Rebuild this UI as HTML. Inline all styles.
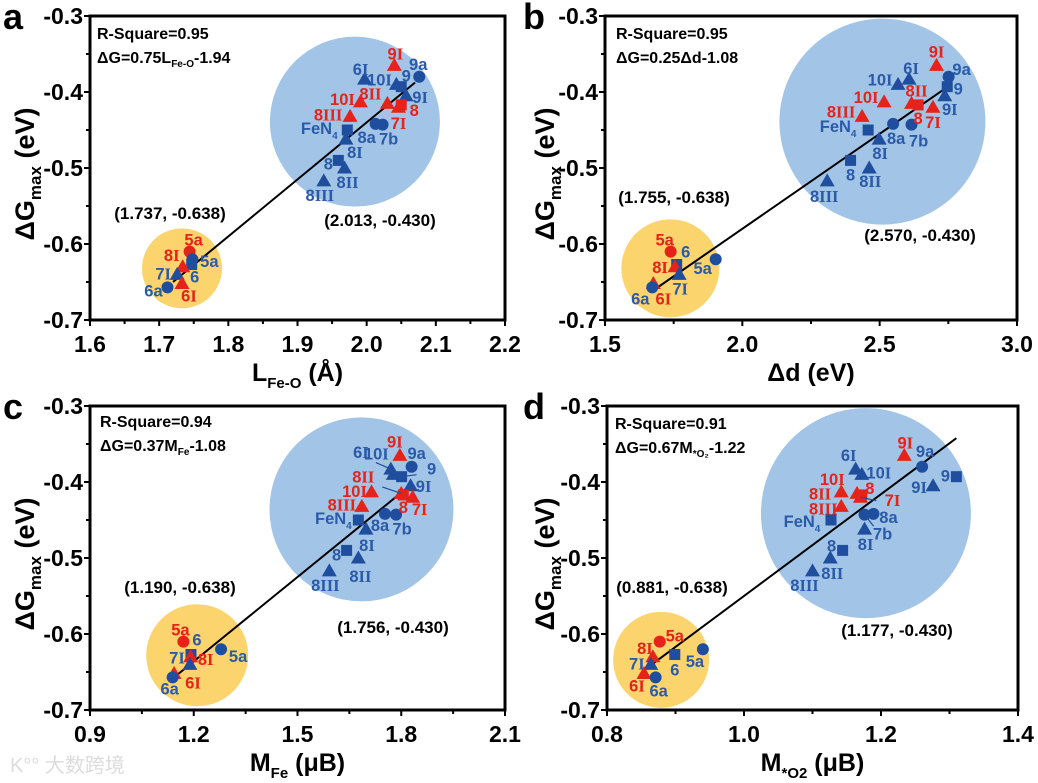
<!DOCTYPE html>
<html><head><meta charset="utf-8">
<style>
html,body{margin:0;padding:0;background:#fff;}
svg{display:block;font-family:"Liberation Sans",sans-serif;}
</style></head>
<body>
<svg id="fig" width="1038" height="783" viewBox="0 0 1038 783" xmlns="http://www.w3.org/2000/svg"></svg>
<script>
// ---- shared data ----
const pointLabels = ["9I","9a","6I","10I","9","9I","10I","8II","8","7I","8III","8a","7b","FeN4","8I","8","8II","8III","5a","5a","6","8I","7I","6I","6a"];
const pointColors = ["r","b","b","b","b","b","r","r","r","r","r","b","b","b","b","b","b","b","r","b","b","r","b","r","b"];
const pointShapes = ["t","c","t","t","s","t","t","t","s","t","t","c","c","s","t","s","t","t","c","c","s","t","t","t","c"];
const yValues = [-0.365,-0.38,-0.383,-0.39,-0.393,-0.405,-0.413,-0.415,-0.417,-0.42,-0.432,-0.442,-0.443,-0.45,-0.462,-0.49,-0.50,-0.517,-0.61,-0.62,-0.627,-0.63,-0.64,-0.652,-0.657];
const xValuesA = [2.04,2.076,1.997,2.043,2.05,2.057,1.991,2.03,2.05,2.046,1.976,2.013,2.023,1.972,1.97,1.959,1.968,1.938,1.744,1.748,1.747,1.734,1.726,1.733,1.712];
const xValuesB = [2.707,2.751,2.607,2.567,2.746,2.737,2.516,2.616,2.64,2.694,2.436,2.549,2.616,2.458,2.498,2.394,2.462,2.309,1.739,1.903,1.761,1.755,1.77,1.676,1.672];
const xValuesC = [1.796,1.83,1.77,1.777,1.801,1.827,1.714,1.8,1.806,1.833,1.686,1.753,1.785,1.676,1.698,1.642,1.676,1.592,1.17,1.279,1.192,1.191,1.189,1.143,1.139];
const xValuesD = [1.234,1.26,1.163,1.172,1.31,1.276,1.142,1.165,1.172,1.17,1.142,1.189,1.176,1.127,1.176,1.144,1.126,1.1,0.877,0.94,0.899,0.867,0.864,0.854,0.871];
const yTicks = [-0.3,-0.4,-0.5,-0.6,-0.7];
const yTickLabels = ["-0.3","-0.4","-0.5","-0.6","-0.7"];
const xTicksA = [1.6,1.7,1.8,1.9,2.0,2.1,2.2];
const xTickLabelsA = ["1.6","1.7","1.8","1.9","2.0","2.1","2.2"];
const xTicksB = [1.5,2.0,2.5,3.0];
const xTickLabelsB = ["1.5","2.0","2.5","3.0"];
const xTicksC = [0.9,1.2,1.5,1.8,2.1];
const xTickLabelsC = ["0.9","1.2","1.5","1.8","2.1"];
const xTicksD = [0.8,1.0,1.2,1.4];
const xTickLabelsD = ["0.8","1.0","1.2","1.4"];
const fitSlopes = [0.75,0.25,0.37,0.67];
const fitIntercepts = [-1.94,-1.08,-1.08,-1.22];
const fitRanges = [[1.72,2.07],[1.67,2.75],[1.14,1.83],[0.855,1.31]];
const yellowCenters = [[1.733,-0.632],[1.738,-0.632],[1.21,-0.628],[0.879,-0.634]];
const blueCenters = [[1.983,-0.439],[2.51,-0.439],[1.685,-0.436],[1.178,-0.441]];
const rSquares = ["0.95","0.95","0.94","0.91"];
const coordLabels = [["(1.737, -0.638)","(2.013, -0.430)"],["(1.755, -0.638)","(2.570, -0.430)"],["(1.190, -0.638)","(1.756, -0.430)"],["(0.881, -0.638)","(1.177, -0.430)"]];

// ---- layout (styles/positions) ----
const NS="http://www.w3.org/2000/svg";
const svg=document.getElementById('fig');
const RED="#e5231b", BLUE="#1f4e9e", LBLUE="#2b5ba8";
function mk(tag,attrs,parent){const e=document.createElementNS(NS,tag);for(const k in attrs)e.setAttribute(k,attrs[k]);(parent||svg).appendChild(e);return e;}

const panels=[
 {id:"a",ox:0,oy:0,L:90,R:505,T:16,B:320,xmin:1.6,xmax:2.2,xs:xValuesA,ticks:xTicksA,tl:xTickLabelsA,yr:40,br:85,
  coordPos:[[170,213],[380,220]],txt:[97,33],
  offs:[[1,-12],[-1,-13],[-4,-10],[-17,-5],[5,-11],[14,1],[-18,-3],[-17,-10],[13,5],[0,16],[-22,-2],[-9,13],[6,14],[-28,-2],[9,13],[-10,3],[3,14],[-4,14],[4,-12],[17,2],[3,12],[-11,-12],[-14,-1],[7,12],[-14,3]]},
 {id:"b",ox:520,oy:0,L:85,R:497,T:16,B:320,xmin:1.5,xmax:3.0,xs:xValuesB,ticks:xTicksB,tl:xTickLabelsB,yr:49,br:103,
  coordPos:[[154,197],[400,235]],txt:[96,33],
  offs:[[0,-14],[13,-8],[2,-11],[-18,-5],[11,2],[5,13],[-18,-5],[5,-13],[0,13],[0,15],[-21,-5],[3,14],[7,16],[-30,-4],[1,14],[0,14],[1,13],[-3,15],[-6,-12],[-13,9],[9,-13],[-15,0],[1,14],[10,15],[-12,11]]},
 {id:"c",ox:0,oy:390,L:90,R:505,T:16,B:320,xmin:0.9,xmax:2.1,xs:xValuesC,ticks:xTicksC,tl:xTickLabelsC,yr:51,br:92,
  coordPos:[[180,197],[393,237]],txt:[100,31],
  offs:[[-5,-14],[5,-14],[-30,-17],[-17,-21],[30,-8],[13,0],[-17,-1],[-38,-17],[0,12],[7,12],[-20,-2],[-5,11],[6,14],[-25,-2],[1,16],[-10,4],[2,18],[-4,14],[-3,-12],[17,7],[6,-15],[15,2],[-13,-7],[19,9],[-3,11]],
  leaders:[2,4,7]},
 {id:"d",ox:520,oy:390,L:87,R:498,T:16,B:320,xmin:0.8,xmax:1.4,xs:xValuesD,ticks:xTicksD,tl:xTickLabelsD,yr:48,br:105,
  coordPos:[[152,197],[377,240]],txt:[95,33],
  offs:[[1,-13],[3,-16],[-7,-14],[17,-2],[-11,-1],[-14,1],[-9,-13],[-37,0],[8,-7],[32,3],[-18,2],[15,3],[18,19],[-29,1],[1,15],[-11,-5],[2,15],[-8,14],[15,-6],[-8,12],[0,15],[-8,-9],[-14,-1],[-7,12],[3,13]],
  leaders:[9,12]}
];
const xTitles=[
 ['L','Fe-O',' (Å)'],['Δd (eV)','',''],['M','Fe',' (μB)'],['M','*O2',' (μB)']
];
const eqs=[
 ['ΔG=0.75L','Fe-O','-1.94'],['ΔG=0.25Δd-1.08','',''],['ΔG=0.37M','Fe','-1.08'],['ΔG=0.67M','*O₂','-1.22']
];

function labelText(t,str){
  if(str==="FeN4"){const a=mk('tspan',{},t);a.textContent="FeN";const s=mk('tspan',{'font-size':'10','dy':'5'},t);s.textContent="4";return;}
  let buf="";
  for(const ch of str){
    if(ch==="I"){ if(buf){const a=mk('tspan',{},t);a.textContent=buf;buf="";}
      const s=mk('tspan',{'font-family':'"Liberation Serif",serif'},t);s.textContent="I";}
    else buf+=ch;
  }
  if(buf){const a=mk('tspan',{},t);a.textContent=buf;}
}

panels.forEach((p,pi)=>{
  const g=mk('g',{transform:`translate(${p.ox},${p.oy})`});
  
  
  const sx=v=>p.L+(v-p.xmin)/(p.xmax-p.xmin)*(p.R-p.L);
  const sy=v=>p.T+(-0.3-v)/0.4*(p.B-p.T);
  const yc=mk('circle',{cx:sx(yellowCenters[pi][0]),cy:sy(yellowCenters[pi][1]),r:p.yr,fill:"#fbd46d"},g);
  
  
  const bc=mk('circle',{cx:sx(blueCenters[pi][0]),cy:sy(blueCenters[pi][1]),r:p.br,fill:"#a2c5e7"},g);
  
  
  const x0=fitRanges[pi][0],x1=fitRanges[pi][1];
  const fl=mk('line',{x1:sx(x0),y1:sy(fitSlopes[pi]*x0+fitIntercepts[pi]),x2:sx(x1),y2:sy(fitSlopes[pi]*x1+fitIntercepts[pi]),stroke:"#000","stroke-width":2},g);
  
  
  p.xs.forEach((xv,i)=>{
    const cx=sx(xv),cy=sy(yValues[i]);const col=pointColors[i]==="r"?RED:BLUE;
    let m;
    if(pointShapes[i]==="c") m=mk('circle',{cx:cx,cy:cy,r:6,fill:col},g);
    else if(pointShapes[i]==="s") m=mk('rect',{x:cx-5.5,y:cy-5.5,width:11,height:11,fill:col},g);
    else m=mk('polygon',{points:`${cx},${cy-7.5} ${cx-7.5},${cy+5.5} ${cx+7.5},${cy+5.5}`,fill:col},g);
    
    
  });
  p.xs.forEach((xv,i)=>{
    const cx=sx(xv),cy=sy(yValues[i]);const o=p.offs[i];
    if(p.leaders&&p.leaders.includes(i)){
      const ln=mk('line',{x1:cx+o[0]*0.5,y1:cy+o[1]*0.5+2,x2:cx,y2:cy,stroke:BLUE,"stroke-width":1.2},g);
      
      
    }
    const t=mk('text',{x:cx+o[0],y:cy+o[1]+6,'text-anchor':'middle','font-size':16.5,'font-weight':'bold',fill:pointColors[i]==="r"?RED:LBLUE},g);
    
    
    labelText(t,pointLabels[i]);
  });
  const fr=mk('rect',{x:p.L,y:p.T,width:p.R-p.L,height:p.B-p.T,fill:"none",stroke:"#000","stroke-width":3},g);
  
  
  yTicks.forEach((v,i)=>{
    mk('line',{x1:p.L-6,x2:p.L,y1:sy(v),y2:sy(v),stroke:"#000","stroke-width":2},g);
    if(i<yTicks.length-1) mk('line',{x1:p.L-4,x2:p.L,y1:sy(v-0.05),y2:sy(v-0.05),stroke:"#000","stroke-width":2},g);
    const t=mk('text',{x:p.L-7,y:sy(v)+8,'text-anchor':'end','font-size':23,'font-weight':'bold'},g);
    
    
    t.textContent=yTickLabels[i];
  });
  p.ticks.forEach((v,i)=>{
    mk('line',{x1:sx(v),x2:sx(v),y1:p.B,y2:p.B+6,stroke:"#000","stroke-width":2},g);
    if(i<p.ticks.length-1){const mv=(v+p.ticks[i+1])/2;mk('line',{x1:sx(mv),x2:sx(mv),y1:p.B,y2:p.B+4,stroke:"#000","stroke-width":2},g);}
    const t=mk('text',{x:sx(v),y:p.B+32,'text-anchor':'middle','font-size':23,'font-weight':'bold'},g);
    
    
    t.textContent=p.tl[i];
  });
  const pl=mk('text',{x:3,y:29,'font-size':36,'font-weight':'bold'},g);
  
  
  pl.textContent=p.id;
  const yt=mk('text',{x:0,y:0,transform:`translate(34,${(p.T+p.B)/2+6}) rotate(-90)`,'text-anchor':'middle','font-size':27,'font-weight':'bold'},g);
  
  
  const a1=mk('tspan',{},yt);a1.textContent="ΔG";
  const a2=mk('tspan',{'font-size':17,dy:7},yt);a2.textContent="max";
  const a3=mk('tspan',{dy:-7},yt);a3.textContent=" (eV)";
  const xt=mk('text',{x:(p.L+p.R)/2,y:381,'text-anchor':'middle','font-size':25,'font-weight':'bold'},g);
  
  
  const xtt=xTitles[pi];
  const b1=mk('tspan',{},xt);b1.textContent=xtt[0];
  if(xtt[1]){const b2=mk('tspan',{'font-size':15,dy:7},xt);b2.textContent=xtt[1];
    const b3=mk('tspan',{dy:-7},xt);b3.textContent=xtt[2];}
  const r=mk('text',{x:p.txt[0],y:p.txt[1]+6,'font-size':16,'font-weight':'bold'},g);
  
  
  r.textContent="R-Square="+rSquares[pi];
  const e=mk('text',{x:p.txt[0],y:p.txt[1]+30,'font-size':16,'font-weight':'bold'},g);
  
  
  const eq=eqs[pi];
  const e1=mk('tspan',{},e);e1.textContent=eq[0];
  if(eq[1]){const e2=mk('tspan',{'font-size':10,dy:4},e);e2.textContent=eq[1];
    const e3=mk('tspan',{dy:-4},e);e3.textContent=eq[2];}
  coordLabels[pi].forEach((s,k)=>{
    const t=mk('text',{x:p.coordPos[k][0],y:p.coordPos[k][1]+6,'text-anchor':'middle','font-size':17,'font-weight':'bold'},g);
    
    
    t.textContent=s;
  });
});
const wm=mk('text',{x:10,y:772,'font-size':20,fill:"#dcdcdc",'font-family':'"Liberation Sans","Noto Sans CJK SC",sans-serif'});


wm.textContent="K°° 大数跨境";
</script>
</body></html>
